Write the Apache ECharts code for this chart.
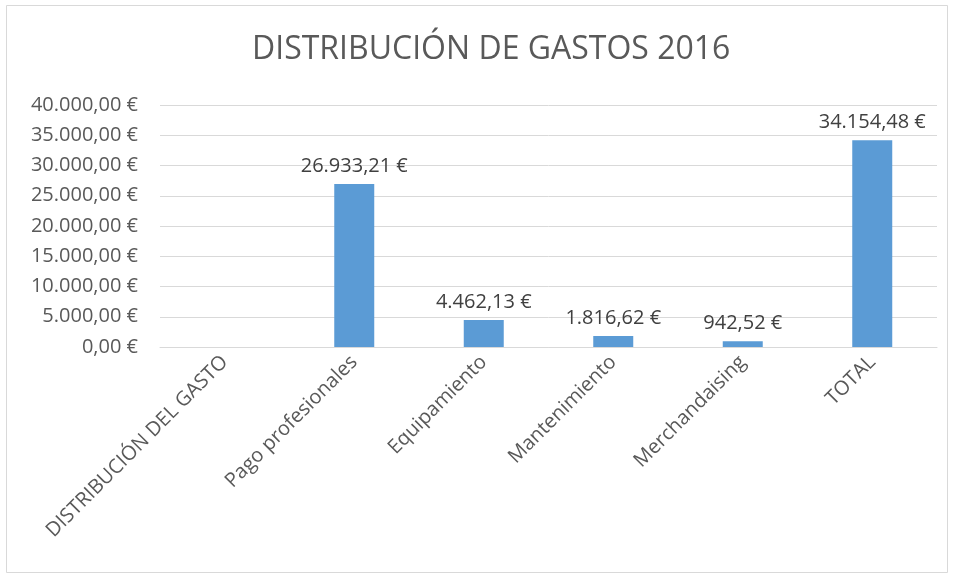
<!DOCTYPE html>
<html><head><meta charset="utf-8">
<script src="https://cdn.jsdelivr.net/npm/echarts@6/dist/echarts.min.js"></script>
<style>html,body{margin:0;padding:0;background:#fff}#c{width:955px;height:579px}</style>
</head><body><div id="c"></div>
<script>
const categories = ['DISTRIBUCIÓN DEL GASTO','Pago profesionales','Equipamiento','Mantenimiento','Merchandaising','TOTAL'];
const values = [null, 26933.21, 4462.13, 1816.62, 942.52, 34154.48];
const titleText = 'DISTRIBUCIÓN DE GASTOS 2016';

function fmt(v){
  const parts = v.toFixed(2).split('.');
  const intPart = parts[0].replace(/\B(?=(\d{3})+(?!\d))/g,'.');
  return intPart + ',' + parts[1] + ' €';
}
const FONT = 'Open Sans';
const chart = echarts.init(document.getElementById('c'));
chart.setOption({
  animation:false,
  backgroundColor:'#fff',
  textStyle:{fontFamily:FONT},
  title:{text:titleText,left:247,top:29,textStyle:{fontFamily:FONT,fontSize:32,fontWeight:'normal',color:'#595959'}},
  graphic:[{type:'rect',shape:{x:6.5,y:5.5,width:941,height:567},style:{fill:'none',stroke:'#D9D9D9',lineWidth:1},silent:true}],
  grid:{left:160,right:18,top:105,bottom:232},
  xAxis:{type:'category',data:categories,
    axisLine:{lineStyle:{color:'#D9D9D9'}},axisTick:{show:false},
    axisLabel:{rotate:45,color:'#595959',fontSize:20,fontFamily:FONT,margin:12,interval:0}},
  yAxis:{type:'value',min:0,max:40000,interval:5000,
    axisLine:{show:false},axisTick:{show:false},
    splitLine:{lineStyle:{color:'#D9D9D9'}},
    axisLabel:{color:'#595959',fontSize:20,fontFamily:FONT,margin:22,formatter:v=>fmt(v)}},
  series:[{type:'bar',data:values,barWidth:40,itemStyle:{color:'#5B9BD5'},
    label:{show:true,position:'top',distance:8,color:'#404040',fontSize:20,fontFamily:FONT,formatter:p=>p.value==null?'':fmt(p.value)}}]
});
</script></body></html>
